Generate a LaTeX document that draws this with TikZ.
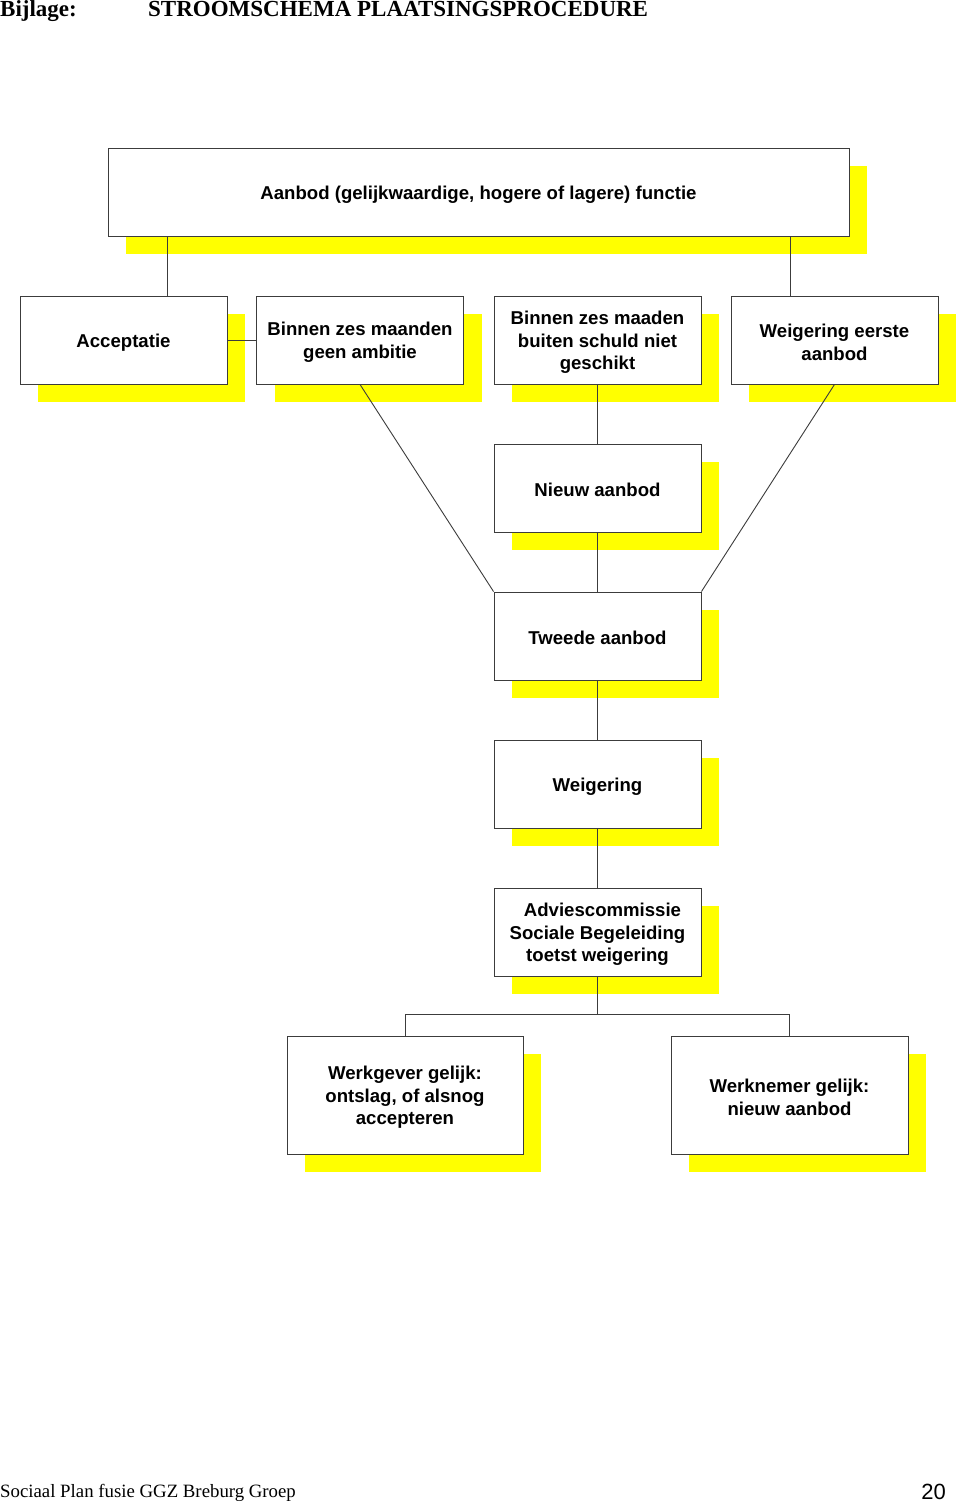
\documentclass[tikz,border=0pt]{standalone}
\usepackage{fontspec}
\setmainfont{Liberation Sans}
\newfontfamily\serifface{Liberation Serif}
\usetikzlibrary{shadows}
\definecolor{ylw}{RGB}{255,255,0}
\definecolor{edge}{RGB}{60,60,60}
\newcommand\toppad{\rule{0pt}{18pt}}
\begin{document}
\begin{tikzpicture}[x=1pt,y=-1pt,
  ybox/.style={draw=edge,line width=0.9pt,fill=white,inner sep=2pt,
    minimum width=207pt,minimum height=88pt,align=center,
    font=\fontsize{18.6}{22.5}\selectfont\bfseries,
    general shadow={fill=ylw,shadow xshift=18pt,shadow yshift=-18pt}},
  conn/.style={draw=edge,line width=0.9pt}]
\useasboundingbox[fill=white] (0,0) rectangle (960,1505);
% header / footer
\node[anchor=base west,inner sep=0,font=\serifface\bfseries\fontsize{23}{26}\selectfont] (hd1) at (0,16) {Bijlage:};
\node[anchor=base west,inner sep=0,font=\serifface\bfseries\fontsize{23}{26}\selectfont] (hd2) at (148,16) {STROOMSCHEMA PLAATSINGSPROCEDURE};
\node[anchor=base west,inner sep=0,font=\serifface\fontsize{18.8}{22}\selectfont] (ft1) at (0,1497) {Sociaal Plan fusie GGZ Breburg Groep};
\node[anchor=base east,inner sep=0,font=\fontsize{22}{26}\selectfont] (ft2) at (946,1499) {20};
% boxes
\node[ybox,minimum width=741pt] (top) at (478.5,192) {\toppad Aanbod (gelijkwaardige, hogere of lagere) functie};
\node[ybox] (acc) at (123.5,340) {\toppad Acceptatie};
\node[ybox] (b1) at (360,340) {\toppad Binnen zes maanden\\geen ambitie};
\node[ybox] (b2) at (597.5,340) {\toppad Binnen zes maaden\\buiten schuld niet\\geschikt};
\node[ybox] (we) at (834.5,340) {\toppad Weigering eerste\\aanbod};
\node[ybox] (nieuw) at (597.5,488) {\toppad Nieuw aanbod};
\node[ybox] (tweede) at (597.5,636) {\toppad Tweede aanbod};
\node[ybox] (weig) at (597.5,784) {\toppad Weigering};
\node[ybox] (advies) at (597.5,932) {\toppad\hspace*{10pt}Adviescommissie\\Sociale Begeleiding\\toetst weigering};
\node[ybox,minimum width=236pt,minimum height=118pt] (wg) at (405,1095) {\toppad Werkgever gelijk:\\ontslag, of alsnog\\accepteren};
\node[ybox,minimum width=237pt,minimum height=118pt] (wn) at (789.5,1095) {\toppad Werknemer gelijk:\\nieuw aanbod};
% connectors
\draw[conn] ([xshift=43.5pt]acc.north) -- ([xshift=43.5pt]acc.north |- top.south);
\draw[conn] ([xshift=-44.5pt]we.north) -- ([xshift=-44.5pt]we.north |- top.south);
\draw[conn] (acc.east) -- (b1.west);
\draw[conn] (b1.south) -- (tweede.north west);
\draw[conn] (we.south) -- (tweede.north east);
\draw[conn] (b2.south) -- (nieuw.north);
\draw[conn] (nieuw.south) -- (tweede.north);
\draw[conn] (tweede.south) -- (weig.north);
\draw[conn] (weig.south) -- (advies.north);
\draw[conn] (advies.south) -- ++(0,38) coordinate (j);
\draw[conn] (wg.north) |- (j) -| (wn.north);
\end{tikzpicture}
\end{document}
